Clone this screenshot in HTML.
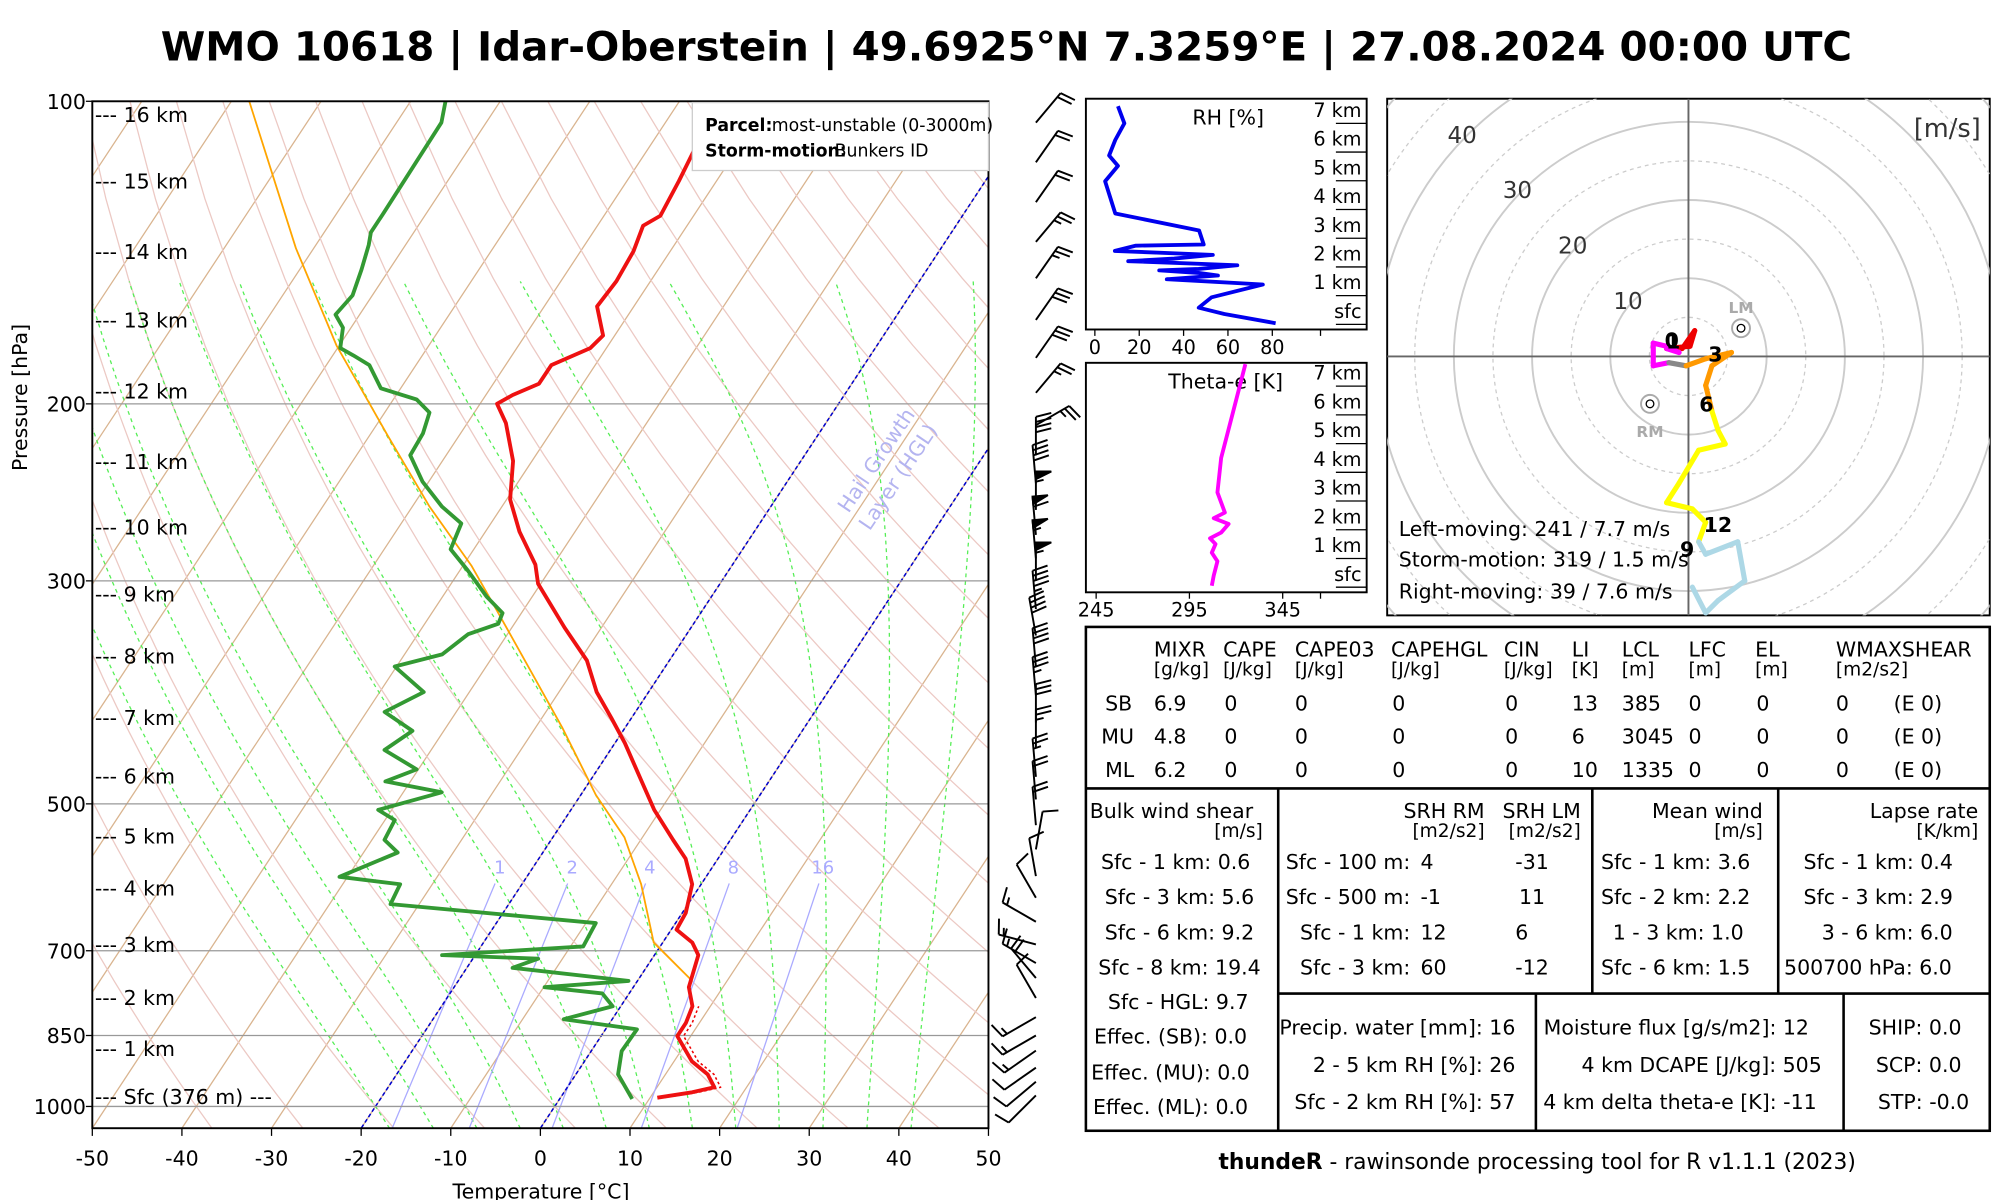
<!DOCTYPE html>
<html><head><meta charset="utf-8">
<style>
html,body{margin:0;padding:0;background:#fff;}
svg{display:block;font-family:"DejaVu Sans","Liberation Sans",sans-serif;}
.t16{font-size:16px;fill:#000;}
.t14{font-size:14.5px;fill:#000;}
</style></head>
<body>
<svg id="root" width="2000" height="1200" viewBox="0 0 1560 936" xmlns="http://www.w3.org/2000/svg">
<rect width="1560" height="936" fill="#fff"/>
<text x="785" y="47" text-anchor="middle" font-weight="bold" font-size="31.5">WMO 10618 | Idar-Oberstein | 49.6925°N 7.3259°E | 27.08.2024 00:00 UTC</text>
<defs>
<clipPath id="skc"><rect x="72" y="79" width="699" height="801"/></clipPath>
<clipPath id="hoc"><rect x="1082" y="77" width="470" height="403"/></clipPath>
</defs>
<g id="skewt"></g>
<g id="barbs"></g>
<g id="rhp"></g>
<g id="thp"></g>
<g id="hodo"></g>

<g>
<rect x="847" y="489" width="705" height="393" fill="none" stroke="#000" stroke-width="2"/>
<line x1="847" y1="615" x2="1552" y2="615" stroke="#000" stroke-width="2"/>
<line x1="997" y1="615" x2="997" y2="882" stroke="#000" stroke-width="2"/>
<line x1="1242" y1="615" x2="1242" y2="775" stroke="#000" stroke-width="2"/>
<line x1="1387" y1="615" x2="1387" y2="775" stroke="#000" stroke-width="2"/>
<line x1="997" y1="775" x2="1552" y2="775" stroke="#000" stroke-width="2"/>
<line x1="1198" y1="775" x2="1198" y2="882" stroke="#000" stroke-width="2"/>
<line x1="1438" y1="775" x2="1438" y2="882" stroke="#000" stroke-width="2"/>
<g class="t16">
<text x="900" y="512">MIXR</text><text x="954" y="512">CAPE</text><text x="1010" y="512">CAPE03</text><text x="1085" y="512">CAPEHGL</text><text x="1173" y="512">CIN</text><text x="1226" y="512">LI</text><text x="1265" y="512">LCL</text><text x="1317" y="512">LFC</text><text x="1369" y="512">EL</text><text x="1432" y="512">WMAXSHEAR</text>
</g>
<g class="t14">
<text x="900" y="527">[g/kg]</text><text x="954" y="527">[J/kg]</text><text x="1010" y="527">[J/kg]</text><text x="1085" y="527">[J/kg]</text><text x="1173" y="527">[J/kg]</text><text x="1226" y="527">[K]</text><text x="1265" y="527">[m]</text><text x="1317" y="527">[m]</text><text x="1369" y="527">[m]</text><text x="1432" y="527">[m2/s2]</text>
</g>
<g class="t16">
<text x="862" y="554">SB</text><text x="900" y="554">6.9</text><text x="955" y="554">0</text><text x="1010" y="554">0</text><text x="1086" y="554">0</text><text x="1174" y="554">0</text><text x="1226" y="554">13</text><text x="1265" y="554">385</text><text x="1317" y="554">0</text><text x="1370" y="554">0</text><text x="1432" y="554">0</text><text x="1477" y="554">(E 0)</text>
<text x="859" y="580">MU</text><text x="900" y="580">4.8</text><text x="955" y="580">0</text><text x="1010" y="580">0</text><text x="1086" y="580">0</text><text x="1174" y="580">0</text><text x="1226" y="580">6</text><text x="1265" y="580">3045</text><text x="1317" y="580">0</text><text x="1370" y="580">0</text><text x="1432" y="580">0</text><text x="1477" y="580">(E 0)</text>
<text x="862" y="606">ML</text><text x="900" y="606">6.2</text><text x="955" y="606">0</text><text x="1010" y="606">0</text><text x="1086" y="606">0</text><text x="1174" y="606">0</text><text x="1226" y="606">10</text><text x="1265" y="606">1335</text><text x="1317" y="606">0</text><text x="1370" y="606">0</text><text x="1432" y="606">0</text><text x="1477" y="606">(E 0)</text>

<text x="850" y="638">Bulk wind shear</text>
<text x="917" y="678" text-anchor="middle">Sfc - 1 km: 0.6</text>
<text x="920" y="705" text-anchor="middle">Sfc - 3 km: 5.6</text>
<text x="920" y="733" text-anchor="middle">Sfc - 6 km: 9.2</text>
<text x="920" y="760" text-anchor="middle">Sfc - 8 km: 19.4</text>
<text x="919" y="787" text-anchor="middle">Sfc - HGL: 9.7</text>
<text x="913" y="814" text-anchor="middle">Effec. (SB): 0.0</text>
<text x="913" y="842" text-anchor="middle">Effec. (MU): 0.0</text>
<text x="913" y="869" text-anchor="middle">Effec. (ML): 0.0</text>

<text x="1158" y="638" text-anchor="end">SRH RM</text><text x="1233" y="638" text-anchor="end">SRH LM</text>
<text x="1100" y="678" text-anchor="end">Sfc - 100 m:</text><text x="1108" y="678">4</text><text x="1195" y="678" text-anchor="middle">-31</text>
<text x="1100" y="705" text-anchor="end">Sfc - 500 m:</text><text x="1108" y="705">-1</text><text x="1195" y="705" text-anchor="middle">11</text>
<text x="1100" y="733" text-anchor="end">Sfc - 1 km:</text><text x="1108" y="733">12</text><text x="1187" y="733" text-anchor="middle">6</text>
<text x="1100" y="760" text-anchor="end">Sfc - 3 km:</text><text x="1108" y="760">60</text><text x="1195" y="760" text-anchor="middle">-12</text>

<text x="1375" y="638" text-anchor="end">Mean wind</text>
<text x="1307" y="678" text-anchor="middle">Sfc - 1 km: 3.6</text>
<text x="1307" y="705" text-anchor="middle">Sfc - 2 km: 2.2</text>
<text x="1309" y="733" text-anchor="middle">1 - 3 km: 1.0</text>
<text x="1307" y="760" text-anchor="middle">Sfc - 6 km: 1.5</text>

<text x="1543" y="638" text-anchor="end">Lapse rate</text>
<text x="1465" y="678" text-anchor="middle">Sfc - 1 km: 0.4</text>
<text x="1465" y="705" text-anchor="middle">Sfc - 3 km: 2.9</text>
<text x="1472" y="733" text-anchor="middle">3 - 6 km: 6.0</text>
<text x="1457" y="760" text-anchor="middle">500700 hPa: 6.0</text>

<text x="1182" y="807" text-anchor="end">Precip. water [mm]: 16</text>
<text x="1182" y="836" text-anchor="end">2 - 5 km RH [%]: 26</text>
<text x="1182" y="865" text-anchor="end">Sfc - 2 km RH [%]: 57</text>
<text x="1411" y="807" text-anchor="end">Moisture flux [g/s/m2]: 12</text>
<text x="1421" y="836" text-anchor="end">4 km DCAPE [J/kg]: 505</text>
<text x="1417" y="865" text-anchor="end">4 km delta theta-e [K]: -11</text>
<text x="1530" y="807" text-anchor="end">SHIP: 0.0</text>
<text x="1530" y="836" text-anchor="end">SCP: 0.0</text>
<text x="1536" y="865" text-anchor="end">STP: -0.0</text>
</g>
<g class="t14">
<text x="985" y="653" text-anchor="end">[m/s]</text>
<text x="1158" y="653" text-anchor="end">[m2/s2]</text><text x="1233" y="653" text-anchor="end">[m2/s2]</text>
<text x="1375" y="653" text-anchor="end">[m/s]</text>
<text x="1543" y="653" text-anchor="end">[K/km]</text>
</g>
</g>
<text x="1199" y="912" text-anchor="middle" font-size="17"><tspan font-weight="bold">thundeR</tspan> - rawinsonde processing tool for R v1.1.1 (2023)</text>
</svg>
<script>
// ===== Skew-T data =====
const tempP = [980,968,957,929,902,851,826,795,761,707,687,667,642,601,567,543,507,475,435,411,387,360,334,302,289,268,249,228,209,200,196,191,183,176,171,160,151,141,133,130,120,110,100];
const tempT = [10.8,14.3,16.4,14.7,12.0,8.5,8.5,8.0,6.2,4.9,3.3,0.6,0.4,-1.0,-3.6,-6.4,-10.7,-14.2,-18.9,-22.2,-25.8,-29.2,-34.1,-40.3,-42.0,-46.2,-49.6,-52.1,-55.7,-58.1,-57.0,-54.9,-54.9,-51.8,-51.3,-54.1,-53.8,-54.1,-54.9,-53.7,-54.2,-54.9,-55.8];
const dewP = [983,929,881,838,819,795,772,761,750,728,713,707,693,657,629,601,591,559,543,519,507,487,475,462,442,423,405,387,365,355,339,331,323,311,293,279,263,253,239,225,214,204,198,193,183,179,176,168,163,156,147,139,135,129,105,100];
const dewT = [8.1,4.7,3.4,3.5,-5.4,-0.9,-3.0,-9.9,-1.0,-14.9,-12.7,-23.7,-8.6,-8.9,-33.2,-33.6,-40.9,-36.2,-38.6,-38.9,-41.5,-35.7,-42.8,-40.2,-45.2,-43.5,-48.0,-45.1,-50.2,-45.8,-44.4,-41.8,-42.1,-45.1,-49.1,-52.6,-53.3,-56.7,-60.7,-64.0,-64.2,-65.0,-67.4,-72.2,-75.2,-77.7,-79.7,-80.9,-82.7,-82.2,-83.1,-84.1,-84.8,-84.8,-85.0,-86.1];
const parcelP = [750,687,601,540,490,420,370,325,290,253,215,175,140,100];
const parcelT = [6.1,-1.0,-6.7,-12.0,-18.3,-27.0,-34.5,-42.2,-49.0,-58.1,-68.0,-80.3,-92.0,-108.0];
const pressureTicks = [100,200,300,500,700,850,1000];
const tempTicks = [-50,-40,-30,-20,-10,0,10,20,30,40,50];
const heightLabels = ["16 km","15 km","14 km","13 km","12 km","11 km","10 km","9 km","8 km","7 km","6 km","5 km","4 km","3 km","2 km","1 km"];
const heightPress = [103,120,141,165,194,228,265,309,356,410,469,538,606,690,779,875];
const mixRatios = [1,2,4,8,16];
// wind barbs
const windP = [975,945,915,880,850,815,780,745,720,690,655,620,590,555,525,495,470,440,415,390,365,340,320,300,285,270,255,240,225,210,195,180,165,150,138,126,115,105];
const windDir = [225,230,235,235,240,240,330,320,300,285,300,330,350,10,355,355,355,360,360,355,355,350,355,360,355,355,0,355,0,60,40,35,35,35,40,35,35,40];
const windSpd = [8,10,12,14,15,15,10,18,15,15,15,12,10,12,18,20,25,25,30,35,40,40,45,55,55,60,55,40,40,25,25,30,30,25,25,20,20,20];
// RH panel
const rhH = [0.04,0.36,0.58,0.94,1.39,1.57,1.70,1.79,1.88,1.93,2.06,2.20,2.29,2.42,2.56,2.74,2.78,3.27,3.86,4.98,5.52,5.88,6.42,7.0,7.6];
const rhV = [81.5,58.4,46.8,52.6,75.7,32.4,55.5,46.8,29,46.8,64.2,15,35.8,53.2,9,18.5,49.1,47,9.2,4.6,10.4,6.4,9.2,13.3,10.4];
const rhTicks = [0,20,40,60,80];
const thH = [0.05,0.4,0.9,1.2,1.5,1.7,1.9,2.2,2.4,2.6,3.3,4.5,5.5,6.5,7.8];
const thV = [307,308,310,307,309,306,312,316,308,314,310,312,316,320,325];
const thTicks = [245,295,345];
const kmLabels = ["sfc","1 km","2 km","3 km","4 km","5 km","6 km","7 km"];
// hodograph (m/s)
const hodoU = [-0.8,0.8,0.2,-2.8,-1.2,-2.8,-4.5,-4.5,-2.5,-0.3,2.2,5.5,3.0,2.2,3.0,3.8,4.7,1.3,-1.2,-2.8,0.5,2.2,1.3,2.2,6.3,7.2,3.8,2.2,0.5];
const hodoV = [1.0,3.3,1.3,1.0,0.5,1.3,1.7,-1.2,-0.8,-1.2,-0.3,0.5,-1.2,-3.7,-7.0,-9.5,-11.2,-12.0,-16.2,-18.7,-19.5,-21.2,-23.7,-25.3,-23.7,-28.7,-31.2,-32.8,-29.5];
const hodoCol = ["#e00","#e00","#e00","#e00","#f0f","#f0f","#f0f","#f0f","#f0f","#888","#f90","#f90","#f90","#f90","#f90","#ff0","#ff0","#ff0","#ff0","#ff0","#ff0","#ff0","#ff0","#add8e6","#add8e6","#add8e6","#add8e6","#add8e6","#add8e6"];
const ringVals = [10,20,30,40];

const NS="http://www.w3.org/2000/svg";
function mk(tag, attrs, parent, txt){const e=document.createElementNS(NS,tag);for(const k in attrs)e.setAttribute(k,attrs[k]);if(txt!==undefined)e.textContent=txt;parent.appendChild(e);return e;}
const yP = p => 79 + 340.5*Math.log(p/100);
const xT = (T,p) => 72 + (T+50)*6.99 + 0.659*(880 - yP(p));
const sk = document.getElementById('skewt');
const bg = mk('g',{'clip-path':'url(#skc)'},sk);


// isotherms
for(let T=-160;T<=50;T+=10){
  mk('line',{x1:xT(T,1050),y1:yP(1050),x2:xT(T,100),y2:yP(100),stroke:'#d9b48f','stroke-width':1},bg);
}
// dry adiabats
for(let th=-40;th<=200;th+=10){
  let d='';
  for(let p=1050;p>=100;p-=25){const T=(th+273.15)*Math.pow(p/1000,0.2857)-273.15;d+=(d?'L':'M')+xT(T,p).toFixed(1)+','+yP(p).toFixed(1);}
  mk('path',{d:d,fill:'none',stroke:'#ecc9c4','stroke-width':1},bg);
}
// moist adiabats
function es(Tc){return 6.112*Math.exp(17.67*Tc/(Tc+243.5));}
function gam(T,lp){const pc=Math.exp(lp),e=es(T-273.15),rs=0.622*e/(pc-e);return (287*T+2.5e6*rs)/(1004+2.5e6*2.5e6*rs*0.622/(287*T*T));}
for(let tw=-20;tw<=40;tw+=5){
  let T=tw+273.15,lp=Math.log(1000);
  let T2=T,lp2=lp;
  while(Math.exp(lp2)<1050){T2+=gam(T2,lp2)*0.01;lp2+=0.01;}
  const pts=[[T2,Math.exp(lp2)]];
  while(Math.exp(lp)>150){pts.push([T,Math.exp(lp)]);T-=gam(T,lp)*0.01;lp-=0.01;}
  let d='';
  pts.forEach((q,i)=>{d+=(i?'L':'M')+xT(q[0]-273.15,q[1]).toFixed(1)+','+yP(q[1]).toFixed(1);});
  mk('path',{d:d,fill:'none',stroke:'#55ee55','stroke-width':1,'stroke-dasharray':'3,3'},bg);
}
// mixing ratio lines
mixRatios.forEach(w=>{
  const td=p=>{const e=w*p/(622+w);const a=Math.log(e/6.112);return 243.5*a/(17.67-a);};
  const g=mk('g',{},bg);
  
  
  mk('line',{x1:xT(td(1050),1050),y1:yP(1050),x2:xT(td(600),600),y2:yP(600),stroke:'#aaaaff','stroke-width':1},g);
  mk('text',{x:xT(td(585),585),y:yP(585)+1,'text-anchor':'middle','font-size':14,fill:'#aaaaff'},g,String(w));
});
// hail growth layer
[-20,0].forEach(T=>{mk('line',{x1:xT(T,1050),y1:yP(1050),x2:xT(T,100),y2:yP(100),stroke:'#0000cc','stroke-width':1.2,'stroke-dasharray':'3,2'},bg);});
mk('text',{x:688,y:362,transform:'rotate(-56 688 362)','text-anchor':'middle','font-size':16,fill:'#b4b4f0'},bg,'Hail Growth');
mk('text',{x:705,y:375,transform:'rotate(-56 705 375)','text-anchor':'middle','font-size':16,fill:'#b4b4f0'},bg,'Layer (HGL)');
// pressure lines
pressureTicks.forEach(p=>{mk('line',{x1:72,x2:771,y1:yP(p),y2:yP(p),stroke:'#999','stroke-width':1},bg);});
// profiles
function prof(P,T,col,w,name,dash){let d='';P.forEach((p,i)=>{d+=(i?'L':'M')+xT(T[i],p).toFixed(1)+','+yP(p).toFixed(1);});const e=mk('path',{d:d,fill:'none',stroke:col,'stroke-width':w,'stroke-linejoin':'round'},bg);if(dash)e.setAttribute('stroke-dasharray',dash);return e;}
prof(parcelP,parcelT,'#ffa500',1.4,'parcel-line');
prof(tempP.slice(0,8),tempT.slice(0,8).map(t=>t+0.7),'#e00',1.2,'virtual-temperature-line','2,2');
prof(dewP,dewT,'#339933',3,'dewpoint-line');
prof(tempP,tempT,'#ee1111',3,'temperature-line');
// frame and axes
mk('rect',{x:72,y:79,width:699,height:801,fill:'none',stroke:'#000','stroke-width':1.5},sk);
pressureTicks.forEach(p=>{const t=mk('text',{x:67,y:yP(p)+6,'text-anchor':'end','font-size':16},sk,String(p));mk('line',{x1:67,x2:72,y1:yP(p),y2:yP(p),stroke:'#000'},sk);});
tempTicks.forEach(T=>{const x=72+(T+50)*6.99;mk('line',{x1:x,x2:x,y1:880,y2:886,stroke:'#000'},sk);const t=mk('text',{x:x,y:909,'text-anchor':'middle','font-size':16},sk,String(T));});
mk('text',{x:422,y:935,'text-anchor':'middle','font-size':16},sk,'Temperature [°C]');
mk('text',{x:21,y:310,'text-anchor':'middle','font-size':16,transform:'rotate(-90 21 310)'},sk,'Pressure [hPa]');
heightLabels.forEach((h,i)=>{mk('text',{x:74,y:yP(heightPress[i])+6,'font-size':16},sk,'--- '+h);});
mk('text',{x:74,y:861,'font-size':16},sk,'--- Sfc (376 m) ---');
// legend
const lg=mk('g',{},sk);


mk('rect',{x:540,y:80,width:231,height:53,fill:'#fff',stroke:'#ccc'},lg);
mk('text',{x:550,y:102,'font-size':13.5,'font-weight':'bold'},lg,'Parcel:');
mk('text',{x:602,y:102,'font-size':13.5},lg,'most-unstable (0-3000m)');
mk('text',{x:550,y:122,'font-size':13.5,'font-weight':'bold'},lg,'Storm-motion:');
mk('text',{x:651,y:122,'font-size':13.5},lg,'Bunkers ID');

// wind barbs
const bb=document.getElementById('barbs');
windP.forEach((p,i)=>{
  const y=yP(p),x=808,a=windDir[i]*Math.PI/180,L=30;
  const ux=Math.sin(a),uy=-Math.cos(a);const ex=x+ux*L,ey=y+uy*L;
  const g=mk('g',{stroke:'#000','stroke-width':1.5,fill:'#000'},bb);
  
  
  mk('line',{x1:x,y1:y,x2:ex,y2:ey},g);
  let s=Math.round(windSpd[i]/5)*5,pos=0;const px=-uy,py=ux;
  while(s>=50){const bx=ex-ux*pos,by=ey-uy*pos;mk('polygon',{points:`${bx},${by} ${bx+px*12},${by+py*12} ${bx-ux*6},${by-uy*6}`},g);pos+=8;s-=50;}
  while(s>=10){const bx=ex-ux*pos,by=ey-uy*pos;mk('line',{x1:bx,y1:by,x2:bx+px*12+ux*3,y2:by+py*12+uy*3},g);pos+=4;s-=10;}
  if(s>=5){if(pos===0)pos=4;const bx=ex-ux*pos,by=ey-uy*pos;mk('line',{x1:bx,y1:by,x2:bx+px*6+ux*1.5,y2:by+py*6+uy*1.5},g);}
});

// side panels
function sidePanel(gid,x0,y0,w,h,vals,H,ticks,xmap,col,title,titleX){
  const g=document.getElementById(gid);
  mk('rect',{x:x0,y:y0,width:w,height:h,fill:'none',stroke:'#000','stroke-width':1.5},g);
  const sfcY=y0+h-4,kmPx=22.4;
  kmLabels.forEach((k,i)=>{const yy=sfcY-i*kmPx;mk('line',{x1:x0+w-24,x2:x0+w,y1:yy,y2:yy,stroke:'#000'},g);mk('text',{x:x0+w-4,y:yy-5,'text-anchor':'end','font-size':15},g,k);});
  ticks.forEach(t=>{const xx=xmap(t);mk('line',{x1:xx,x2:xx,y1:y0+h,y2:y0+h+5,stroke:'#000'},g);mk('text',{x:xx,y:y0+h+19,'text-anchor':'middle','font-size':15},g,String(t));});
  mk('line',{x1:x0+w-36,x2:x0+w-36,y1:y0+h,y2:y0+h+5,stroke:'#000'},g);
  mk('text',{x:titleX,y:y0+20,'text-anchor':'middle','font-size':16},g,title);
  let d='';vals.forEach((v,i)=>{const yy=Math.max(y0+1,sfcY-H[i]*kmPx);d+=(i?'L':'M')+xmap(v).toFixed(1)+','+yy.toFixed(1);});
  const pth=mk('path',{d:d,fill:'none',stroke:col,'stroke-width':3,'stroke-linejoin':'round'},g);
  
  
}
sidePanel('rhp',847,77,219,180,rhV,rhH,rhTicks,v=>854+v*1.73,'#0000ee','RH [%]',958);
sidePanel('thp',847,283,219,179,thV,thH,thTicks,v=>855+(v-245)*1.455,'#ff00ff','Theta-e [K]',956);

// hodograph
const ho=document.getElementById('hodo');
mk('rect',{x:1082,y:77,width:470,height:403,fill:'#fff',stroke:'#000','stroke-width':1.5},ho);
const hg=mk('g',{'clip-path':'url(#hoc)'},ho);
const cx=1317,cy=278,sc=6.1;
for(let r=5;r<=60;r+=10)mk('circle',{cx:cx,cy:cy,r:r*sc,fill:'none',stroke:'#ccc','stroke-dasharray':'3,3'},hg);
for(let r=10;r<=60;r+=10)mk('circle',{cx:cx,cy:cy,r:r*sc,fill:'none',stroke:'#ccc','stroke-width':1.5},hg);
mk('line',{x1:1082,x2:1552,y1:cy,y2:cy,stroke:'#666','stroke-width':1.5},hg);
mk('line',{x1:cx,x2:cx,y1:77,y2:480,stroke:'#666','stroke-width':1.5},hg);
ringVals.forEach(r=>{const a=-135*Math.PI/180;mk('text',{x:cx+Math.cos(a)*r*sc-4,y:cy+Math.sin(a)*r*sc+6,'text-anchor':'middle','font-size':18,fill:'#333'},hg,String(r));});
mk('text',{x:1545,y:107,'text-anchor':'end','font-size':20,fill:'#333'},hg,'[m/s]');
for(let i=1;i<hodoU.length;i++){
  const s=mk('line',{x1:cx+hodoU[i-1]*sc,y1:cy-hodoV[i-1]*sc,x2:cx+hodoU[i]*sc,y2:cy-hodoV[i]*sc,stroke:hodoCol[i],'stroke-width':4,'stroke-linecap':'round'},hg);
  
  
}
[[1358,256,'LM',-16],[1287,315,'RM',22]].forEach(m=>{mk('circle',{cx:m[0],cy:m[1],r:7,fill:'none',stroke:'#aaa','stroke-width':1.5},hg);mk('circle',{cx:m[0],cy:m[1],r:3,fill:'none',stroke:'#000'},hg);mk('text',{x:m[0],y:m[1]+m[3]+4,'text-anchor':'middle','font-size':12,'font-weight':'bold',fill:'#aaa'},hg,m[2]);});
[['0',1304,271],['1',1305,272],['3',1338,282],['6',1331,321],['12',1340,415],['9',1316,434]].forEach(l=>mk('text',{x:l[1],y:l[2],'text-anchor':'middle','font-size':16,'font-weight':'bold'},hg,l[0]));
mk('text',{x:1091,y:418,'font-size':16},hg,'Left-moving: 241 / 7.7 m/s');
mk('text',{x:1091,y:442,'font-size':16},hg,'Storm-motion: 319 / 1.5 m/s');
mk('text',{x:1091,y:467,'font-size':16},hg,'Right-moving: 39 / 7.6 m/s');
</script>
</body></html>
